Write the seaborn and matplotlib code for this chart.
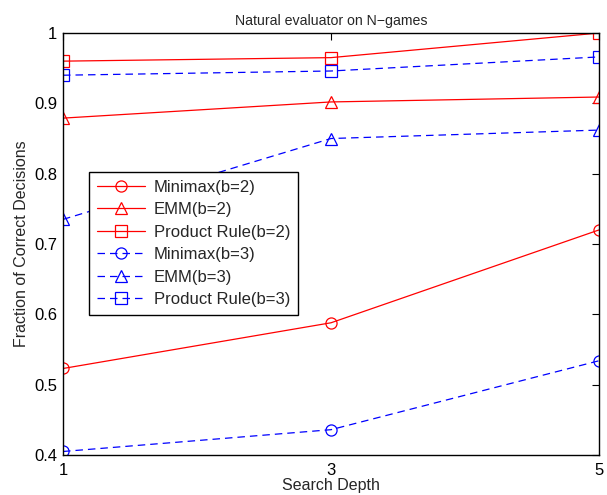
import pandas as pd
import matplotlib.pyplot as plt
import seaborn as sns

depth = [1, 3, 5]
minimax_b2 = [0.523, 0.588, 0.720]
emm_b2 = [0.879, 0.902, 0.909]
product_b2 = [0.960, 0.965, 1.000]
minimax_b3 = [0.405, 0.436, 0.534]
emm_b3 = [0.735, 0.850, 0.862]
product_b3 = [0.940, 0.946, 0.966]

labels = ["Minimax(b=2)", "EMM(b=2)", "Product Rule(b=2)",
          "Minimax(b=3)", "EMM(b=3)", "Product Rule(b=3)"]
values = [minimax_b2, emm_b2, product_b2, minimax_b3, emm_b3, product_b3]

sns.set_style("white")
plt.rcParams["font.family"] = ["Liberation Sans", "DejaVu Sans"]

fig = plt.figure(figsize=(6.07, 4.95), dpi=100)
ax = fig.add_axes([0.1038, 0.0808, 0.883, 0.8525])

markers = ["o", "^", "s", "o", "^", "s"]
for i, (lab, vals) in enumerate(zip(labels, values)):
    b2 = i < 3
    df = pd.DataFrame({"depth": depth, "value": vals})
    sns.lineplot(
        data=df, x="depth", y="value", ax=ax, label=lab,
        color="red" if b2 else "blue",
        linestyle="-" if b2 else (0, (6, 4)),
        linewidth=0.9, marker=markers[i], markersize=8,
        markerfacecolor="none", markeredgewidth=0.9,
        markeredgecolor="red" if b2 else "blue",
    )

ax.set_xlim(1, 5)
ax.set_ylim(0.4, 1.0)
ax.set_xticks([1, 3, 5])
ax.set_yticks([0.4, 0.5, 0.6, 0.7, 0.8, 0.9, 1.0])
ax.set_yticklabels(["0.4", "0.5", "0.6", "0.7", "0.8", "0.9", "1"])
ax.tick_params(direction="in", length=5, width=0.8, top=True, right=True,
               labelsize=12, colors="black", pad=4)
ax.tick_params(axis="x", pad=6)
for sp in ax.spines.values():
    sp.set_color("black")
    sp.set_linewidth(1.0)
    sp.set_visible(True)

ax.set_xlabel("Search Depth", fontsize=11.5, labelpad=0)
ax.set_ylabel("Fraction of Correct Decisions", fontsize=11.5, labelpad=4)
ax.set_title("Natural evaluator on N\u2212games", fontsize=10.2, pad=6)

leg = ax.legend(loc="upper left", bbox_to_anchor=(0.0485, 0.6706),
                borderaxespad=0, fontsize=12, handlelength=2.9,
                handletextpad=0.55, labelspacing=0.45, borderpad=0.45,
                fancybox=False, framealpha=1, edgecolor="black")
leg.get_frame().set_linewidth(1.0)

fig.savefig("out.png", dpi=100)
